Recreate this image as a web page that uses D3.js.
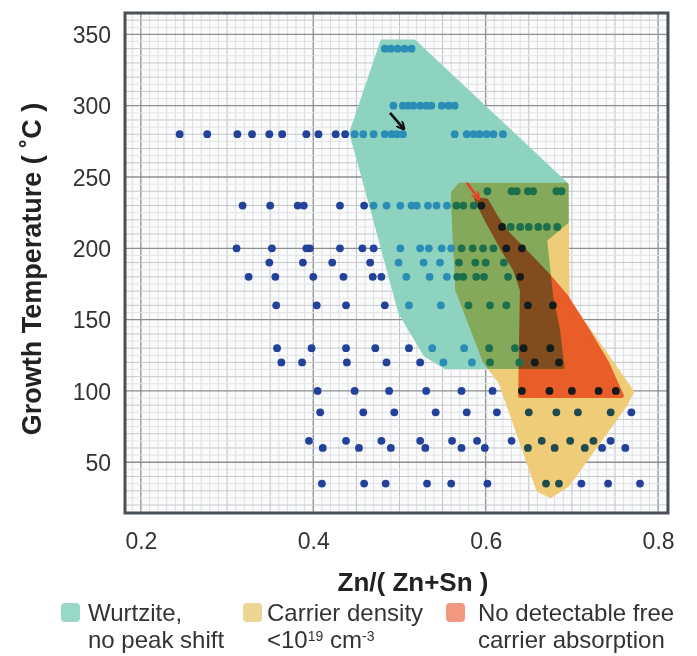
<!DOCTYPE html>
<html>
<head>
<meta charset="utf-8">
<script src="https://cdn.jsdelivr.net/npm/d3@7"></script>
<style>
  body { margin: 0; background: #fff; }
  svg { display: block; font-family: "Liberation Sans", Arial, sans-serif; }
</style>
</head>
<body>
<script>
// growth temperatures (°C) of each row of samples
const temps = [340, 300, 280, 240, 230, 215, 200, 190, 180, 160, 130, 120, 100, 85, 65, 60, 35];
// Zn/(Zn+Sn) of the samples in each row, same order as temps
const znRows = [
  [0.483, 0.490, 0.498, 0.506, 0.514],
  [0.493, 0.504, 0.510, 0.516, 0.524, 0.531, 0.537, 0.549, 0.557, 0.564],
  [0.245, 0.277, 0.312, 0.329, 0.349, 0.364, 0.392, 0.406, 0.426, 0.437, 0.448, 0.458, 0.470, 0.483, 0.491, 0.497, 0.504, 0.564, 0.578, 0.586, 0.593, 0.601, 0.609, 0.620],
  [0.602, 0.630, 0.636, 0.649, 0.655, 0.682, 0.688],
  [0.318, 0.350, 0.382, 0.389, 0.431, 0.459, 0.470, 0.485, 0.501, 0.514, 0.520, 0.533, 0.543, 0.555, 0.566, 0.574, 0.586, 0.595],
  [0.619, 0.629, 0.640, 0.650, 0.661, 0.671, 0.683],
  [0.311, 0.352, 0.392, 0.396, 0.431, 0.457, 0.470, 0.501, 0.524, 0.534, 0.549, 0.560, 0.572, 0.585, 0.597, 0.609, 0.624, 0.642],
  [0.349, 0.388, 0.422, 0.466, 0.499, 0.528, 0.547, 0.569, 0.588, 0.600, 0.621],
  [0.325, 0.356, 0.400, 0.435, 0.469, 0.479, 0.508, 0.535, 0.555, 0.567, 0.574, 0.589, 0.598, 0.626, 0.640],
  [0.357, 0.404, 0.438, 0.483, 0.511, 0.548, 0.580, 0.605, 0.624, 0.649, 0.678],
  [0.358, 0.398, 0.438, 0.472, 0.511, 0.538, 0.575, 0.604, 0.634, 0.644, 0.675],
  [0.363, 0.387, 0.439, 0.485, 0.524, 0.551, 0.584, 0.605, 0.639, 0.657, 0.685],
  [0.405, 0.448, 0.488, 0.531, 0.572, 0.608, 0.642, 0.674, 0.700, 0.731, 0.751],
  [0.408, 0.458, 0.494, 0.542, 0.578, 0.613, 0.650, 0.682, 0.707, 0.745, 0.769],
  [0.395, 0.438, 0.479, 0.524, 0.561, 0.590, 0.630, 0.665, 0.698, 0.725, 0.745],
  [0.411, 0.453, 0.490, 0.530, 0.572, 0.599, 0.649, 0.680, 0.715, 0.735, 0.762],
  [0.410, 0.459, 0.484, 0.532, 0.560, 0.602, 0.670, 0.685, 0.711, 0.742, 0.779]
];

// outlines of the shaded regions, [Zn/(Zn+Sn), temperature]
const wurtziteRegion = [
  [0.480, 345], [0.517, 345], [0.694, 244.6], [0.694, 218.6], [0.669, 206],
  [0.676, 166], [0.684, 142.8], [0.689, 116.8], [0.553, 116.8], [0.530, 125.3],
  [0.501, 154.7], [0.475, 213], [0.444, 281]
];
const carrierRegion = [
  [0.570, 244.6], [0.694, 244.6], [0.695, 163.9], [0.770, 99.3], [0.762, 90.2],
  [0.695, 34], [0.675, 26.3], [0.661, 30.5], [0.617, 106.3], [0.599, 120.4],
  [0.567, 170.9], [0.562, 234], [0.562, 239]
];
const absorptionRegion = [
  [0.589, 234.5], [0.601, 220], [0.620, 199], [0.634, 185], [0.642, 170.9],
  [0.640, 96.5], [0.758, 96.5], [0.741, 119.6], [0.718, 142.8], [0.694, 166],
  [0.672, 181.4], [0.650, 195.4], [0.627, 209.5], [0.614, 220], [0.601, 233.6]
];

const xTicks = [0.2, 0.4, 0.6, 0.8];
const yTicks = [50, 100, 150, 200, 250, 300, 350];

const legendLabels = [
  ["Wurtzite,", "no peak shift"],
  ["Carrier density", "<10|19| cm|-3"],
  ["No detectable free", "carrier absorption"]
];

// black arrow to the 280 °C sample, red arrow to the 230 °C sample
const arrows = [
  { x1: 0.489, y1: 295, x2: 0.504, y2: 284.5, color: "#111" },
  { x1: 0.578, y1: 246, x2: 0.591, y2: 235.5, color: "#e8412b" }
];

const width = 697, height = 656;
const pLeft = 125, pRight = 668, pTop = 13, pBottom = 513;

const svg = d3.select("body").append("svg")
  .attr("width", width)
  .attr("height", height);

const x = d3.scaleLinear().domain([0.1816, 0.8115]).range([pLeft, pRight]);
const y = d3.scaleLinear().domain([14.4, 365]).range([pBottom, pTop]);

svg.append("rect")
  .attr("x", pLeft).attr("y", pTop)
  .attr("width", pRight - pLeft).attr("height", pBottom - pTop)
  .attr("fill", "#fafbfd");

// graph paper grid
const grid = svg.append("g");
const vLines = d3.range(19, 82).map(d => d / 100);
grid.selectAll("line.v")
  .data(vLines)
  .join("line")
  .attr("x1", d => x(d)).attr("x2", d => x(d))
  .attr("y1", pTop).attr("y2", pBottom)
  .attr("stroke", d => (Math.round(d * 100) % 20 === 0) ? "#8e8e8e" : (Math.round(d * 100) % 5 === 0 ? "#c2c2c2" : "#dedede"))
  .attr("stroke-width", d => (Math.round(d * 100) % 20 === 0) ? 1.3 : 1);
const hLines = d3.range(15, 365, 5);
grid.selectAll("line.h")
  .data(hLines)
  .join("line")
  .attr("x1", pLeft).attr("x2", pRight)
  .attr("y1", d => y(d)).attr("y2", d => y(d))
  .attr("stroke", d => d % 50 === 0 ? "#8e8e8e" : (d % 10 === 0 ? "#c8c8c8" : "#e4e4e4"))
  .attr("stroke-width", d => d % 50 === 0 ? 1.3 : 1);

// shaded regions, overlaps darken like stacked transparencies
const line = d3.line().x(d => x(d[0])).y(d => y(d[1])).curve(d3.curveLinearClosed);
const regions = svg.append("g").style("isolation", "isolate");
const regionData = [
  { pts: wurtziteRegion, color: "#8dd3c0" },
  { pts: carrierRegion, color: "#eecc78" },
  { pts: absorptionRegion, color: "#fa7455" }
];
regions.selectAll("path")
  .data(regionData)
  .join("path")
  .attr("d", d => line(d.pts))
  .attr("fill", d => d.color)
  .attr("stroke", d => d.color)
  .attr("stroke-width", 4)
  .attr("stroke-linejoin", "round")
  .style("mix-blend-mode", "multiply");

// samples
const samples = temps.flatMap((t, i) => znRows[i].map(z => ({ z: z, t: t })));
function dotColor(d) {
  const p = [d.z, d.t];
  const inW = d3.polygonContains(wurtziteRegion, p);
  const inC = d3.polygonContains(carrierRegion, p);
  const inA = d3.polygonContains(absorptionRegion, p);
  if (inA) return "#141b1b";
  if (inW && inC) return "#1d6f4c";
  if (inW) return "#2b8db5";
  if (inC) return "#1f4a4f";
  return "#24419a";
}
svg.append("g").selectAll("circle")
  .data(samples)
  .join("circle")
  .attr("cx", d => x(d.z))
  .attr("cy", d => y(d.t))
  .attr("r", 3.9)
  .attr("fill", dotColor);

// arrows
const defs = svg.append("defs");
arrows.forEach((a, i) => {
  defs.append("marker")
    .attr("id", "head" + i)
    .attr("viewBox", "0 0 10 10")
    .attr("refX", 7).attr("refY", 5)
    .attr("markerWidth", 3.2).attr("markerHeight", 3.2)
    .attr("orient", "auto")
    .append("path")
    .attr("d", "M0,0 L10,5 L0,10")
    .attr("fill", "none")
    .attr("stroke", a.color)
    .attr("stroke-width", 2.5);
});
svg.append("g").selectAll("line")
  .data(arrows)
  .join("line")
  .attr("x1", d => x(d.x1)).attr("y1", d => y(d.y1))
  .attr("x2", d => x(d.x2)).attr("y2", d => y(d.y2))
  .attr("stroke", d => d.color)
  .attr("stroke-width", 2.6)
  .attr("marker-end", (d, i) => "url(#head" + i + ")");

// frame
svg.append("rect")
  .attr("x", pLeft).attr("y", pTop)
  .attr("width", pRight - pLeft).attr("height", pBottom - pTop)
  .attr("fill", "none")
  .attr("stroke", "#4b5057")
  .attr("stroke-width", 3);

// axes
const xAxis = svg.append("g")
  .attr("transform", `translate(0,${pBottom})`)
  .call(d3.axisBottom(x).tickValues(xTicks).tickFormat(d3.format(".1f")).tickSize(0).tickPadding(20));
const yAxis = svg.append("g")
  .attr("transform", `translate(${pLeft},0)`)
  .call(d3.axisLeft(y).tickValues(yTicks).tickSize(0).tickPadding(14));
[xAxis, yAxis].forEach(a => {
  a.select(".domain").remove();
  a.selectAll("text")
    .attr("font-family", "'Liberation Sans', Arial, sans-serif")
    .attr("font-size", 23)
    .attr("fill", "#333");
});
yAxis.selectAll("text").attr("dy", "0.36em");

svg.append("text")
  .attr("x", 413).attr("y", 591)
  .attr("text-anchor", "middle")
  .attr("font-size", 26)
  .attr("font-weight", "bold")
  .attr("fill", "#222")
  .text("Zn/( Zn+Sn )");

svg.append("text")
  .attr("transform", `translate(41,${(pTop + pBottom) / 2 + 6}) rotate(-90)`)
  .attr("text-anchor", "middle")
  .attr("font-size", 27)
  .attr("font-weight", "bold")
  .attr("fill", "#222")
  .text("Growth Temperature ( ˚C )");

// legend
const legendX = [61, 243, 446];
const textX = [88, 267, 478];
const swatch = ["#98d8c7", "#ecd595", "#f29880"];
legendLabels.forEach((lines, i) => {
  svg.append("rect")
    .attr("x", legendX[i]).attr("y", 603)
    .attr("width", 19).attr("height", 19)
    .attr("rx", 4)
    .attr("fill", swatch[i]);
  lines.forEach((s, j) => {
    const t = svg.append("text")
      .attr("x", textX[i]).attr("y", 621 + j * 27)
      .attr("font-size", 24)
      .attr("fill", "#333");
    // parts between | are superscripts
    s.split("|").forEach((part, k) => {
      const ts = t.append("tspan").text(part);
      if (k % 2 === 1) ts.attr("font-size", 14).attr("dy", -7);
      else if (k > 0) ts.attr("dy", 7);
    });
  });
});
</script>
</body>
</html>
